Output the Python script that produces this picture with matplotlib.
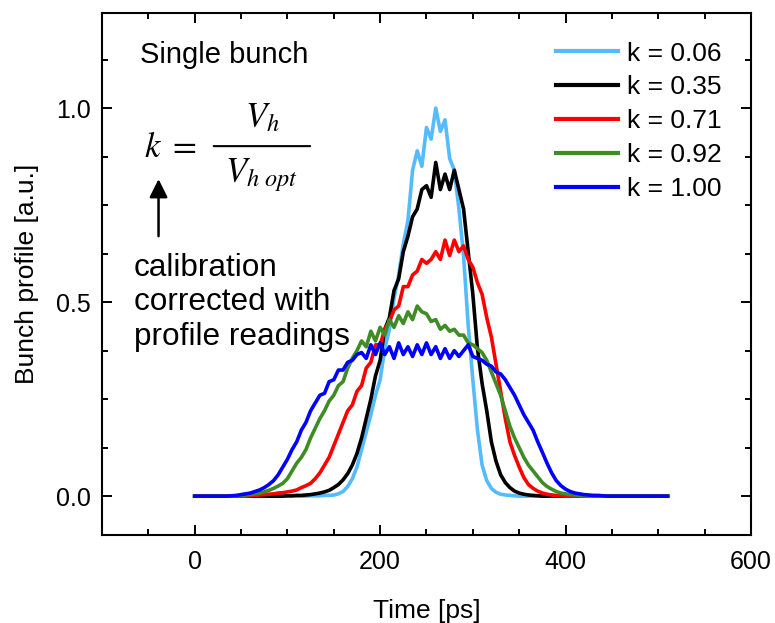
import matplotlib
matplotlib.use("Agg")
import matplotlib.pyplot as plt
from matplotlib.ticker import MultipleLocator

# ---------------- data ----------------
time_ps = list(range(0, 515, 5))  # 0 .. 510 ps

k_labels = ["k = 0.06", "k = 0.35", "k = 0.71", "k = 0.92", "k = 1.00"]
k_colors = ["#55BBFF", "#000000", "#FF0000", "#3F8C26", "#0000FF"]

profile_k006 = [
    0, 0, 0, 0, 0, 0, 0, 0, 0, 0,
    0, 0, 0, 0, 0, 0, 0, 0, 0, 0,
    0, 0, 0, 0, 0, 0.001, 0.001, 0.001, 0.002, 0.002,
    0.003, 0.006, 0.012, 0.025, 0.045, 0.075, 0.12, 0.165, 0.21, 0.26,
    0.30, 0.38, 0.43, 0.51, 0.57, 0.65, 0.71, 0.84, 0.89, 0.85,
    0.95, 0.92, 1.00, 0.94, 0.97, 0.87, 0.84, 0.74, 0.62, 0.44,
    0.30, 0.17, 0.08, 0.04, 0.02, 0.01, 0.005, 0.003, 0.002, 0.001,
    0, 0, 0, 0, 0, 0, 0, 0, 0, 0,
    0, 0, 0, 0, 0, 0, 0, 0, 0, 0,
    0, 0, 0, 0, 0, 0, 0, 0, 0, 0,
    0, 0, 0,
]

profile_k035 = [
    0, 0, 0, 0, 0, 0, 0, 0, 0, 0,
    0, 0, 0, 0, 0, 0, 0, 0, 0, 0,
    0.001, 0.001, 0.002, 0.002, 0.003, 0.004, 0.006, 0.008, 0.011, 0.015,
    0.022, 0.030, 0.042, 0.058, 0.08, 0.11, 0.15, 0.20, 0.25, 0.31,
    0.35, 0.43, 0.46, 0.53, 0.56, 0.63, 0.67, 0.72, 0.74, 0.79,
    0.80, 0.77, 0.86, 0.79, 0.83, 0.79, 0.84, 0.79, 0.74, 0.63,
    0.52, 0.38, 0.29, 0.22, 0.14, 0.09, 0.055, 0.035, 0.022, 0.013,
    0.008, 0.005, 0.003, 0.002, 0.001, 0, 0, 0, 0, 0,
    0, 0, 0, 0, 0, 0, 0, 0, 0, 0,
    0, 0, 0, 0, 0, 0, 0, 0, 0, 0,
    0, 0, 0,
]

profile_k071 = [
    0, 0, 0, 0, 0, 0, 0, 0, 0, 0,
    0, 0, 0.001, 0.002, 0.003, 0.004, 0.005, 0.006, 0.008, 0.009,
    0.011, 0.013, 0.016, 0.022, 0.027, 0.033, 0.045, 0.06, 0.08, 0.10,
    0.13, 0.16, 0.19, 0.22, 0.235, 0.27, 0.285, 0.33, 0.345, 0.39,
    0.39, 0.43, 0.45, 0.48, 0.49, 0.54, 0.54, 0.57, 0.58, 0.61,
    0.60, 0.61, 0.63, 0.61, 0.66, 0.62, 0.66, 0.63, 0.645, 0.61,
    0.59, 0.55, 0.52, 0.46, 0.41, 0.34, 0.27, 0.20, 0.14, 0.105,
    0.075, 0.048, 0.03, 0.02, 0.013, 0.008, 0.005, 0.003, 0.002, 0.001,
    0, 0, 0, 0, 0, 0, 0, 0, 0, 0,
    0, 0, 0, 0, 0, 0, 0, 0, 0, 0,
    0, 0, 0,
]

profile_k092 = [
    0, 0, 0, 0, 0, 0, 0, 0, 0, 0.001,
    0.002, 0.003, 0.004, 0.006, 0.008, 0.011, 0.015, 0.02, 0.026, 0.033,
    0.045, 0.065, 0.085, 0.10, 0.12, 0.15, 0.175, 0.20, 0.22, 0.245,
    0.26, 0.285, 0.295, 0.33, 0.355, 0.375, 0.40, 0.385, 0.425, 0.40,
    0.435, 0.415, 0.455, 0.435, 0.465, 0.445, 0.475, 0.455, 0.49, 0.475,
    0.47, 0.45, 0.455, 0.43, 0.44, 0.425, 0.43, 0.415, 0.415, 0.395,
    0.39, 0.38, 0.37, 0.35, 0.32, 0.29, 0.26, 0.22, 0.18, 0.15,
    0.125, 0.10, 0.08, 0.065, 0.05, 0.035, 0.025, 0.018, 0.012, 0.008,
    0.006, 0.004, 0.003, 0.002, 0.001, 0, 0, 0, 0, 0,
    0, 0, 0, 0, 0, 0, 0, 0, 0, 0,
    0, 0, 0,
]

profile_k100 = [
    0, 0, 0, 0, 0, 0, 0, 0, 0.001, 0.002,
    0.004, 0.006, 0.008, 0.012, 0.016, 0.022, 0.03, 0.04, 0.055, 0.075,
    0.095, 0.12, 0.14, 0.17, 0.19, 0.22, 0.24, 0.26, 0.265, 0.295,
    0.30, 0.325, 0.325, 0.345, 0.35, 0.365, 0.37, 0.355, 0.39, 0.365,
    0.395, 0.365, 0.385, 0.355, 0.395, 0.365, 0.385, 0.36, 0.39, 0.365,
    0.395, 0.365, 0.385, 0.355, 0.38, 0.355, 0.375, 0.36, 0.375, 0.39,
    0.36, 0.355, 0.35, 0.34, 0.335, 0.32, 0.315, 0.30, 0.28, 0.26,
    0.235, 0.21, 0.19, 0.17, 0.14, 0.113, 0.085, 0.06, 0.04, 0.027,
    0.018, 0.012, 0.008, 0.006, 0.004, 0.003, 0.002, 0.002, 0.001, 0,
    0, 0, 0, 0, 0, 0, 0, 0, 0, 0,
    0, 0, 0,
]

profiles = [profile_k006, profile_k035, profile_k071, profile_k092, profile_k100]

x_ticks = [0, 200, 400, 600]
y_ticks = [0.0, 0.5, 1.0]

# ---------------- figure ----------------
plt.rcParams["font.family"] = ["Liberation Sans", "DejaVu Sans"]
plt.rcParams["mathtext.fontset"] = "stix"

fig = plt.figure(figsize=(7.75, 6.23), dpi=100)
ax = fig.add_axes([0.1316, 0.1413, 0.8374, 0.8378])

for prof, lab, col in zip(profiles, k_labels, k_colors):
    ax.plot(time_ps, prof, color=col, lw=2.6, label=lab, solid_joinstyle="round")

ax.set_xlim(-100, 600)
ax.set_ylim(-0.1, 1.245)
ax.set_xticks(x_ticks)
ax.set_yticks(y_ticks)
ax.set_yticklabels([f"{v:.1f}" for v in y_ticks])
ax.xaxis.set_minor_locator(MultipleLocator(50))
ax.yaxis.set_minor_locator(MultipleLocator(0.125))

ax.tick_params(which="both", direction="in", top=True, right=True, width=1.4)
ax.tick_params(which="major", length=7)
ax.tick_params(which="minor", length=4)
ax.tick_params(axis="x", which="major", labelsize=18, pad=11)
ax.tick_params(axis="y", which="major", labelsize=18, pad=8)
for sp in ax.spines.values():
    sp.set_linewidth(1.5)

ax.set_xlabel("Time [ps]", fontsize=19, labelpad=18)
ax.set_ylabel("Bunch profile [a.u.]", fontsize=19, labelpad=12)

leg = ax.legend(loc="upper right", bbox_to_anchor=(0.955, 0.945), frameon=False,
                fontsize=19, handlelength=2.35, handletextpad=0.34,
                labelspacing=0.37, borderpad=0, borderaxespad=0)
for h in leg.get_lines():
    h.set_linewidth(3.0)

ax.text(-59.5, 1.172, "Single bunch", fontsize=21, ha="left", va="top")

# k = V_h / V_h opt, built from pieces so the fraction keeps full size
ax.text(-55, 0.874, r"$k\ =$", fontsize=25, ha="left", va="baseline")
ax.text(72.5, 0.951, r"$V_h$", fontsize=25, ha="center", va="baseline")
ax.text(72.5, 0.809, r"$V_{h\ opt}$", fontsize=25, ha="center", va="baseline")
ax.annotate("", xy=(124.5, 0.902), xytext=(20.5, 0.902),
            arrowprops=dict(arrowstyle="-", lw=1.5, color="black",
                            shrinkA=0, shrinkB=0))

ax.annotate("", xy=(-39, 0.817), xytext=(-39, 0.67),
            arrowprops=dict(arrowstyle="-|>,head_length=1.1,head_width=0.55",
                            lw=1.8, color="black", mutation_scale=10,
                            shrinkA=0, shrinkB=0))
ax.text(-66, 0.626, "calibration\ncorrected with\nprofile readings",
        fontsize=22.7, ha="left", va="top", linespacing=1.18)

fig.savefig("out.png", dpi=100)
